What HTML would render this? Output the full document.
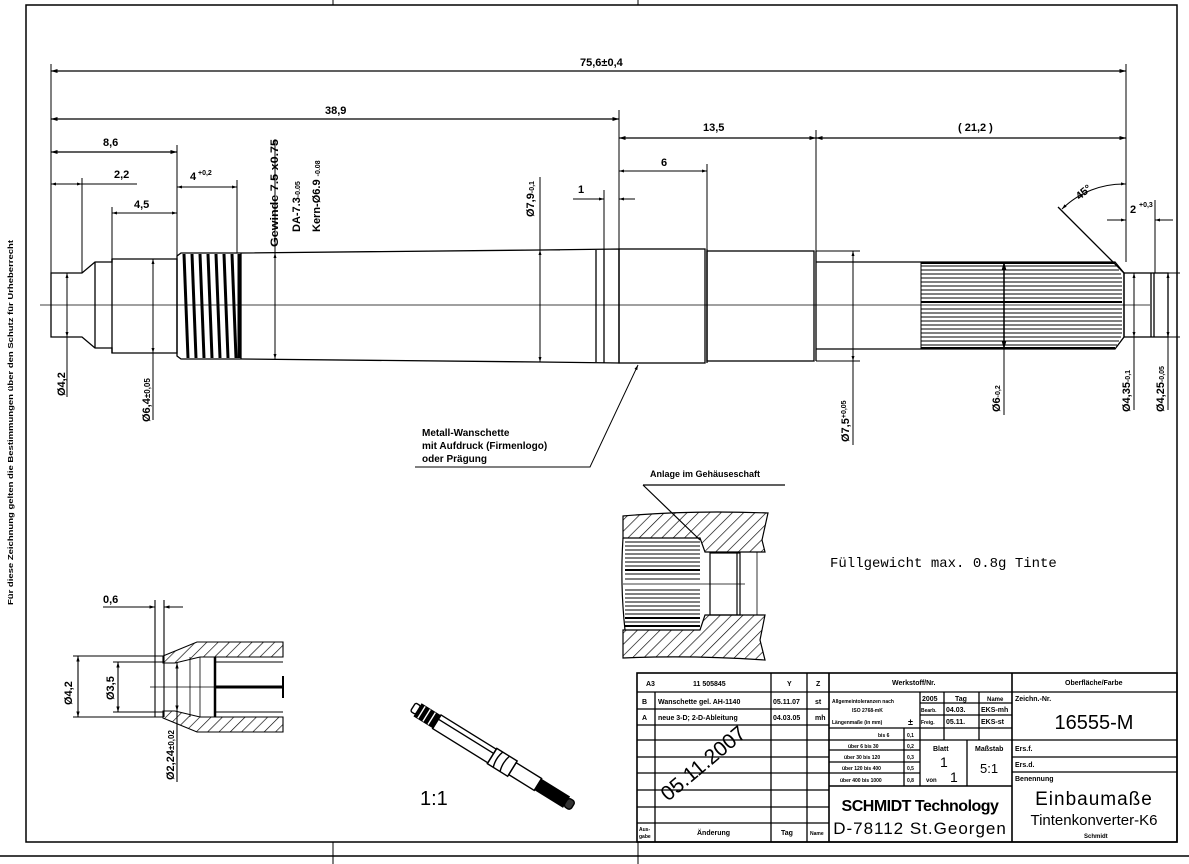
<!DOCTYPE html>
<html><head><meta charset="utf-8"><style>
html,body{margin:0;padding:0;background:#fff}
svg{display:block}
text{font-family:"Liberation Sans",sans-serif;font-weight:bold;fill:#000}
.t{font-size:11px}
.s{font-size:7px}
</style></head><body>
<svg width="1189" height="864" viewBox="0 0 1189 864" xmlns="http://www.w3.org/2000/svg">
<defs>
<marker id="a" viewBox="0 0 10 10" refX="10" refY="5" markerWidth="7" markerHeight="5" orient="auto-start-reverse"><path d="M0,2 L10,5 L0,8z" fill="#000"/></marker>
<pattern id="h" width="8" height="8" patternUnits="userSpaceOnUse" patternTransform="rotate(45)"><line x1="0" y1="0" x2="0" y2="8" stroke="#000" stroke-width="1.3"/></pattern>
</defs>
<rect width="1189" height="864" fill="#fff"/>
<!-- frame -->
<g stroke="#000" fill="none">
<rect x="26" y="5" width="1151" height="837" stroke-width="1.5"/>
<line x1="0" y1="856" x2="1189" y2="856" stroke-width="1.5"/>
<line x1="333" y1="0" x2="333" y2="5"/><line x1="638" y1="0" x2="638" y2="5"/>
<line x1="333" y1="842" x2="333" y2="864"/><line x1="638" y1="842" x2="638" y2="864"/>
</g>
<text class="s" transform="translate(13,605) rotate(-90)" textLength="365" lengthAdjust="spacingAndGlyphs">Für diese Zeichnung gelten die Bestimmungen über den Schutz für Urheberrecht</text>

<!-- centerline -->
<line x1="40" y1="305" x2="1150" y2="305" stroke="#000" stroke-width="0.7"/>

<!-- shaft -->
<g stroke="#000" fill="none" stroke-width="1.3">
<path d="M51,273 H82 L95,262 H112 V259 H177 V353 H112 V348 H95 L82,337 H51 Z"/>
<line x1="95" y1="262" x2="95" y2="348"/>
<line x1="112" y1="259" x2="112" y2="353"/>
<path d="M177,256 L181,253 L241,253 L540,250 L619,249 V363 L540,362 L241,359 L181,359 L177,356 Z"/>
<line x1="241" y1="253" x2="241" y2="359"/>
<line x1="596" y1="250" x2="596" y2="362"/>
<line x1="604" y1="249" x2="604" y2="363"/>
<rect x="619" y="249" width="86" height="114"/>
<line x1="707" y1="249" x2="707" y2="363"/>
<rect x="707" y="251" width="107" height="110"/>
<line x1="816" y1="251" x2="816" y2="361"/>
<path d="M816,262 H1115 L1124,273 V337 L1115,349 H816"/>
<rect x="1124" y="273" width="44" height="64"/>
<line x1="1151" y1="273" x2="1151" y2="337"/>
<line x1="1154" y1="273" x2="1154" y2="337"/>
</g>
<!-- thread -->
<g stroke="#000" stroke-width="3">
<line x1="184" y1="254" x2="188" y2="358"/><line x1="192" y1="254" x2="196" y2="358"/>
<line x1="200" y1="254" x2="204" y2="358"/><line x1="208" y1="254" x2="212" y2="358"/>
<line x1="216" y1="254" x2="220" y2="358"/><line x1="224" y1="254" x2="228" y2="358"/>
<line x1="232" y1="254" x2="236" y2="358"/><line x1="239" y1="254" x2="239" y2="358"/>
</g>
<!-- knurl -->
<g stroke="#000" stroke-width="1">
<line x1="921" y1="262" x2="921" y2="349"/>
<line x1="921" y1="266" x2="1117" y2="266"/><line x1="921" y1="270" x2="1119" y2="270"/>
<line x1="921" y1="274" x2="1121" y2="274"/><line x1="921" y1="278" x2="1122" y2="278"/>
<line x1="921" y1="282" x2="1122" y2="282"/><line x1="921" y1="286" x2="1122" y2="286"/>
<line x1="921" y1="290" x2="1122" y2="290"/><line x1="921" y1="294" x2="1122" y2="294"/>
<line x1="921" y1="298" x2="1122" y2="298"/><line x1="921" y1="302" x2="1122" y2="302" stroke-width="2"/>
<line x1="921" y1="309" x2="1122" y2="309"/><line x1="921" y1="313" x2="1122" y2="313"/>
<line x1="921" y1="317" x2="1122" y2="317"/><line x1="921" y1="321" x2="1122" y2="321"/>
<line x1="921" y1="325" x2="1122" y2="325"/><line x1="921" y1="329" x2="1122" y2="329"/>
<line x1="921" y1="333" x2="1122" y2="333"/><line x1="921" y1="337" x2="1121" y2="337"/>
<line x1="921" y1="341" x2="1119" y2="341"/><line x1="921" y1="345" x2="1117" y2="345"/>
<line x1="921" y1="263" x2="1115" y2="263" stroke-width="2"/><line x1="921" y1="348" x2="1115" y2="348" stroke-width="2"/>
</g>

<!-- dimensions -->
<g stroke="#000" fill="none" stroke-width="1">
<line x1="51" y1="64" x2="51" y2="273"/>
<line x1="51" y1="71" x2="1126" y2="71" marker-start="url(#a)" marker-end="url(#a)" stroke-width="1.3"/>
<line x1="1126" y1="64" x2="1126" y2="262"/>
<line x1="51" y1="119" x2="619" y2="119" marker-start="url(#a)" marker-end="url(#a)" stroke-width="1.3"/>
<line x1="619" y1="110" x2="619" y2="249"/>
<line x1="51" y1="152" x2="177" y2="152" marker-start="url(#a)" marker-end="url(#a)" stroke-width="1.3"/>
<line x1="177" y1="145" x2="177" y2="256"/>
<line x1="51" y1="184" x2="82" y2="184" marker-start="url(#a)" marker-end="url(#a)"/>
<line x1="82" y1="184" x2="137" y2="184"/>
<line x1="82" y1="178" x2="82" y2="273"/>
<line x1="112" y1="207" x2="112" y2="259"/>
<line x1="112" y1="213" x2="177" y2="213" marker-start="url(#a)" marker-end="url(#a)"/>
<line x1="177" y1="187" x2="237" y2="187" marker-start="url(#a)" marker-end="url(#a)"/>
<line x1="237" y1="180" x2="237" y2="253"/>
<line x1="619" y1="138" x2="816" y2="138" marker-start="url(#a)" marker-end="url(#a)" stroke-width="1.3"/>
<line x1="816" y1="130" x2="816" y2="251"/>
<line x1="816" y1="138" x2="1126" y2="138" marker-start="url(#a)" marker-end="url(#a)" stroke-width="1.3"/>
<line x1="619" y1="171" x2="707" y2="171" marker-start="url(#a)" marker-end="url(#a)"/>
<line x1="707" y1="164" x2="707" y2="249"/>
<line x1="604" y1="190" x2="604" y2="249"/>
<line x1="573" y1="199" x2="604" y2="199" marker-end="url(#a)"/>
<line x1="635" y1="199" x2="619" y2="199" marker-end="url(#a)"/>
<!-- vertical dia dims -->
<line x1="67" y1="273" x2="67" y2="337" marker-start="url(#a)" marker-end="url(#a)"/>
<line x1="67" y1="337" x2="67" y2="397"/>
<line x1="153" y1="259" x2="153" y2="353" marker-start="url(#a)" marker-end="url(#a)"/>
<line x1="153" y1="353" x2="153" y2="420"/>
<line x1="275" y1="253" x2="275" y2="359" marker-start="url(#a)" marker-end="url(#a)"/>
<line x1="275" y1="140" x2="275" y2="253"/>
<line x1="540" y1="250" x2="540" y2="362" marker-start="url(#a)" marker-end="url(#a)"/>
<line x1="540" y1="177" x2="540" y2="250"/>
<line x1="530" y1="250" x2="560" y2="250"/>
<line x1="816" y1="251" x2="860" y2="251"/><line x1="816" y1="361" x2="860" y2="361"/>
<line x1="853" y1="251" x2="853" y2="361" marker-start="url(#a)" marker-end="url(#a)"/>
<line x1="853" y1="361" x2="853" y2="445"/>
<line x1="1004" y1="262" x2="1004" y2="349" marker-start="url(#a)" marker-end="url(#a)" stroke-width="1.5"/>
<line x1="1004" y1="349" x2="1004" y2="415"/>
<line x1="1134" y1="273" x2="1134" y2="337" marker-start="url(#a)" marker-end="url(#a)"/>
<line x1="1134" y1="337" x2="1134" y2="410"/>
<line x1="1124" y1="273" x2="1180" y2="273"/><line x1="1124" y1="337" x2="1180" y2="337"/>
<line x1="1168" y1="273" x2="1168" y2="337" marker-start="url(#a)" marker-end="url(#a)"/>
<line x1="1168" y1="337" x2="1168" y2="410"/>
<!-- angle -->
<line x1="1058" y1="207" x2="1124" y2="273" stroke-width="1.3"/>
<path d="M1062,209 A88,88 0 0 1 1126,184" marker-start="url(#a)" marker-end="url(#a)"/>
<line x1="1155" y1="200" x2="1155" y2="273"/>
<line x1="1107" y1="220" x2="1126" y2="220" marker-end="url(#a)"/>
<line x1="1173" y1="220" x2="1155" y2="220" marker-end="url(#a)"/>
<!-- leader -->
<polyline points="638,365 590,467 415,467" marker-start="url(#a)"/>
</g>
<g class="t">
<text x="580" y="66" font-size="11">75,6±0,4</text>
<text x="325" y="114">38,9</text>
<text x="103" y="146">8,6</text>
<text x="114" y="178">2,2</text>
<text x="134" y="208">4,5</text>
<text x="190" y="180">4</text><text x="198" y="175" font-size="7">+0,2</text>
<text x="703" y="131">13,5</text>
<text x="958" y="131">( 21,2 )</text>
<text x="661" y="166">6</text>
<text x="578" y="193">1</text>
<text x="1075" y="196" transform="rotate(-40 1083 192)">45°</text>
<text x="1130" y="213">2</text><text x="1139" y="207" font-size="7">+0,3</text>
<text transform="translate(278,247) rotate(-90)" font-weight="normal" textLength="108" lengthAdjust="spacingAndGlyphs">Gewinde 7.5 x0.75</text>
<text transform="translate(300,232) rotate(-90)" font-weight="normal">DA-7.3<tspan font-size="7">-0.05</tspan></text>
<text transform="translate(320,232) rotate(-90)" font-weight="normal">Kern-Ø6.9 <tspan font-size="7">-0.08</tspan></text>
<text transform="translate(534,217) rotate(-90)">Ø7,9<tspan font-size="7">-0,1</tspan></text>
<text transform="translate(65,396) rotate(-90)">Ø4,2</text>
<text transform="translate(150,422) rotate(-90)">Ø6,4<tspan font-size="8">±0,05</tspan></text>
<text transform="translate(849,442) rotate(-90)">Ø7,5<tspan font-size="7" dy="-3">+0,05</tspan></text>
<text transform="translate(1000,412) rotate(-90)">Ø6<tspan font-size="7">-0,2</tspan></text>
<text transform="translate(1130,412) rotate(-90)">Ø4,35<tspan font-size="7">-0,1</tspan></text>
<text transform="translate(1164,412) rotate(-90)">Ø4,25<tspan font-size="7">-0,05</tspan></text>
<text x="422" y="436" font-size="10">Metall-Wanschette</text>
<text x="422" y="449" font-size="10">mit Aufdruck (Firmenlogo)</text>
<text x="422" y="462" font-size="10">oder Prägung</text>
</g>

<!-- section detail -->
<text x="650" y="477" font-size="9">Anlage im Gehäuseschaft</text>
<g stroke="#000" stroke-width="1.2">
<path d="M623,516 Q690,510 768,513 L762,540 L765,552 H705 L700,538 H623 Z" fill="url(#h)"/>
<path d="M623,630 H700 L705,615 H765 L760,640 L765,660 Q690,655 623,658 Z" fill="url(#h)"/>
<path d="M623,538 Q620,584 625,630" fill="none"/>
<rect x="710" y="553" width="30" height="62" fill="none"/>
<line x1="737" y1="553" x2="737" y2="615"/>
<line x1="757" y1="552" x2="757" y2="615" stroke-width="0.8"/>
<line x1="643" y1="485" x2="785" y2="485"/>
<line x1="643" y1="485" x2="700" y2="540"/>
<line x1="623" y1="584" x2="745" y2="584" stroke-width="0.7"/>
</g>
<g stroke="#000" stroke-width="1">
<line x1="625" y1="542" x2="700" y2="542"/><line x1="625" y1="546" x2="700" y2="546"/>
<line x1="625" y1="550" x2="700" y2="550"/><line x1="625" y1="554" x2="700" y2="554"/>
<line x1="625" y1="558" x2="700" y2="558"/><line x1="625" y1="562" x2="700" y2="562"/>
<line x1="625" y1="566" x2="700" y2="566"/><line x1="625" y1="570" x2="700" y2="570" stroke-width="2"/>
<line x1="625" y1="574" x2="700" y2="574"/><line x1="625" y1="579" x2="700" y2="579"/>
<line x1="625" y1="590" x2="700" y2="590"/><line x1="625" y1="594" x2="700" y2="594"/>
<line x1="625" y1="598" x2="700" y2="598"/><line x1="625" y1="602" x2="700" y2="602"/>
<line x1="625" y1="606" x2="700" y2="606"/><line x1="625" y1="610" x2="700" y2="610"/>
<line x1="625" y1="614" x2="700" y2="614"/><line x1="625" y1="618" x2="700" y2="618" stroke-width="2"/>
<line x1="625" y1="622" x2="700" y2="622"/><line x1="625" y1="626" x2="700" y2="626" stroke-width="2"/>
</g>

<text x="830" y="567" font-size="14" style="font-family:'Liberation Mono',monospace;font-weight:normal">Füllgewicht max. 0.8g Tinte</text>

<!-- left detail -->
<g stroke="#000" stroke-width="1.1" fill="none">
<path d="M163,656 L197,642 H283 V657 H200 L175,663 H163 Z" fill="url(#h)"/>
<path d="M163,718 L197,732 H283 V717 H200 L175,711 H163 Z" fill="url(#h)"/>
<line x1="73" y1="656" x2="163" y2="656"/><line x1="73" y1="717" x2="163" y2="717"/>
<line x1="113" y1="662" x2="163" y2="662"/><line x1="113" y1="712" x2="163" y2="712"/>
<line x1="155" y1="600" x2="155" y2="717"/><line x1="164" y1="600" x2="164" y2="717"/>
<line x1="103" y1="607" x2="155" y2="607" marker-end="url(#a)"/>
<line x1="183" y1="607" x2="164" y2="607" marker-end="url(#a)"/>
<line x1="78" y1="656" x2="78" y2="717" marker-start="url(#a)" marker-end="url(#a)"/>
<line x1="118" y1="662" x2="118" y2="712" marker-start="url(#a)" marker-end="url(#a)"/>
<line x1="177" y1="663" x2="177" y2="711" marker-start="url(#a)" marker-end="url(#a)"/>
<line x1="177" y1="711" x2="177" y2="782"/>
<line x1="215" y1="657" x2="215" y2="717" stroke-width="2.5"/>
<line x1="215" y1="662" x2="283" y2="662"/><line x1="215" y1="712" x2="283" y2="712"/>
<line x1="150" y1="687" x2="215" y2="687" stroke-width="0.7"/>
<line x1="215" y1="687" x2="283" y2="687" stroke-width="3"/>
<line x1="283" y1="676" x2="283" y2="698" stroke-width="2"/>
<line x1="190" y1="657" x2="190" y2="717" stroke-width="0.8"/>
<line x1="200" y1="657" x2="200" y2="717" stroke-width="0.8"/>
</g>
<text x="103" y="603" class="t">0,6</text>
<text transform="translate(72,705) rotate(-90)" class="t">Ø4,2</text>
<text transform="translate(114,700) rotate(-90)" class="t">Ø3,5</text>
<text transform="translate(174,780) rotate(-90)" class="t">Ø2,24<tspan font-size="8">±0,02</tspan></text>

<!-- 3D view -->
<g transform="translate(413,707) rotate(31.8)" stroke="#000" fill="none" stroke-width="1.4">
<rect x="0" y="-5" width="6" height="10" rx="2"/>
<rect x="6" y="-7" width="22" height="14" fill="#000"/>
<line x1="10" y1="-7" x2="10" y2="7" stroke="#fff"/><line x1="16" y1="-7" x2="16" y2="7" stroke="#fff"/><line x1="22" y1="-7" x2="22" y2="7" stroke="#fff"/>
<rect x="28" y="-8" width="65" height="16"/>
<line x1="28" y1="-3" x2="93" y2="-3"/>
<rect x="93" y="-9" width="24" height="18"/>
<path d="M100,-9 Q97,0 100,9 M108,-9 Q105,0 108,9"/>
<rect x="117" y="-7" width="30" height="14"/>
<rect x="147" y="-6" width="33" height="12" fill="#000"/>
<rect x="180" y="-5" width="8" height="10" rx="3" fill="#333"/>
</g>
<text x="420" y="805" font-size="20" style="font-weight:normal">1:1</text>

<!-- title block -->
<g stroke="#000" fill="none" stroke-width="1.3">
<rect x="637" y="673" width="540" height="169" stroke-width="1.6"/>
<line x1="637" y1="692" x2="1177" y2="692"/>
<line x1="655" y1="692" x2="655" y2="842"/>
<line x1="771" y1="673" x2="771" y2="842"/>
<line x1="807" y1="673" x2="807" y2="842"/>
<line x1="829" y1="673" x2="829" y2="842" stroke-width="1.6"/>
<line x1="1012" y1="673" x2="1012" y2="842" stroke-width="1.6"/>
<line x1="637" y1="709" x2="829" y2="709"/><line x1="637" y1="725" x2="829" y2="725"/>
<line x1="637" y1="740" x2="829" y2="740"/><line x1="637" y1="757" x2="829" y2="757"/>
<line x1="637" y1="773" x2="829" y2="773"/><line x1="637" y1="790" x2="829" y2="790"/>
<line x1="637" y1="807" x2="829" y2="807"/><line x1="637" y1="823" x2="829" y2="823"/>
<line x1="904" y1="728" x2="904" y2="786"/>
<line x1="829" y1="728" x2="1012" y2="728"/>
<line x1="829" y1="740" x2="920" y2="740"/><line x1="829" y1="750" x2="920" y2="750"/>
<line x1="829" y1="762" x2="920" y2="762"/><line x1="829" y1="773" x2="920" y2="773"/>
<line x1="829" y1="786" x2="1012" y2="786" stroke-width="1.6"/>
<line x1="920" y1="692" x2="920" y2="786"/>
<line x1="944" y1="692" x2="944" y2="740"/><line x1="979" y1="692" x2="979" y2="740"/>
<line x1="920" y1="703" x2="1012" y2="703"/><line x1="920" y1="715" x2="1012" y2="715"/>
<line x1="920" y1="740" x2="1012" y2="740"/>
<line x1="967" y1="740" x2="967" y2="786"/>
<line x1="1012" y1="740" x2="1177" y2="740"/><line x1="1012" y1="757" x2="1177" y2="757"/>
<line x1="1012" y1="772" x2="1177" y2="772"/>
</g>
<g font-size="7">
<text x="646" y="686">A3</text><text x="693" y="686">11 505845</text>
<text x="787" y="686">Y</text><text x="816" y="686">Z</text>
<text x="642" y="704">B</text><text x="658" y="704">Wanschette gel. AH-1140</text><text x="773" y="704">05.11.07</text><text x="815" y="704">st</text>
<text x="642" y="720">A</text><text x="658" y="720">neue 3-D; 2-D-Ableitung</text><text x="773" y="720">04.03.05</text><text x="815" y="720">mh</text>
<text x="639" y="831" font-size="5">Aus-</text><text x="639" y="838" font-size="5">gabe</text>
<text x="697" y="835">Änderung</text><text x="781" y="835">Tag</text><text x="810" y="835" font-size="5">Name</text>
<text x="892" y="685">Werkstoff/Nr.</text>
<text x="1065" y="685">Oberfläche/Farbe</text>
<text x="832" y="703" font-size="5">Allgemeintoleranzen nach</text>
<text x="852" y="712" font-size="5">ISO 2768-mK</text>
<text x="832" y="724" font-size="5">Längenmaße (in mm)</text><text x="908" y="725" font-size="9">±</text>
<text x="878" y="737" font-size="5">bis 6</text><text x="907" y="737" font-size="5">0,1</text>
<text x="848" y="748" font-size="5">über 6 bis 30</text><text x="907" y="748" font-size="5">0,2</text>
<text x="844" y="759" font-size="5">über 30 bis 120</text><text x="907" y="759" font-size="5">0,3</text>
<text x="842" y="770" font-size="5">über 120 bis 400</text><text x="907" y="770" font-size="5">0,5</text>
<text x="840" y="782" font-size="5">über 400 bis 1000</text><text x="907" y="782" font-size="5">0,8</text>
<text x="922" y="701">2005</text><text x="955" y="701">Tag</text><text x="987" y="701" font-size="6">Name</text>
<text x="921" y="712" font-size="5">Bearb.</text><text x="946" y="712">04.03.</text><text x="981" y="712">EKS-mh</text>
<text x="921" y="724" font-size="5">Freig.</text><text x="946" y="724">05.11.</text><text x="981" y="724">EKS-st</text>
<text x="933" y="751">Blatt</text><text x="975" y="751">Maßstab</text>
<text x="1015" y="701">Zeichn.-Nr.</text>
<text x="1015" y="751">Ers.f.</text><text x="1015" y="767">Ers.d.</text>
<text x="1015" y="781">Benennung</text>
<text x="1084" y="838" font-size="6">Schmidt</text>
</g>
<g>
<text x="940" y="767" font-size="14" style="font-weight:normal">1</text>
<text x="926" y="782" font-size="6">von</text><text x="950" y="782" font-size="14" style="font-weight:normal">1</text>
<text x="980" y="773" font-size="13" style="font-weight:normal">5:1</text>
<text x="1094" y="729" font-size="20" text-anchor="middle" style="font-weight:normal">16555-M</text>
<text x="1094" y="805" font-size="19" text-anchor="middle" style="font-weight:normal;letter-spacing:1px">Einbaumaße</text>
<text x="1094" y="825" font-size="15" text-anchor="middle" style="font-weight:normal">Tintenkonverter-K6</text>
<text x="920" y="834" font-size="17" text-anchor="middle" style="font-weight:normal;letter-spacing:1px">D-78112  St.Georgen</text>
<text transform="translate(668,802) rotate(-40)" font-size="21" style="font-weight:normal">05.11.2007</text>
</g>
<text x="920" y="811" font-size="16" text-anchor="middle" style="letter-spacing:-0.5px">SCHMIDT Technology</text>
</svg>
</body></html>
